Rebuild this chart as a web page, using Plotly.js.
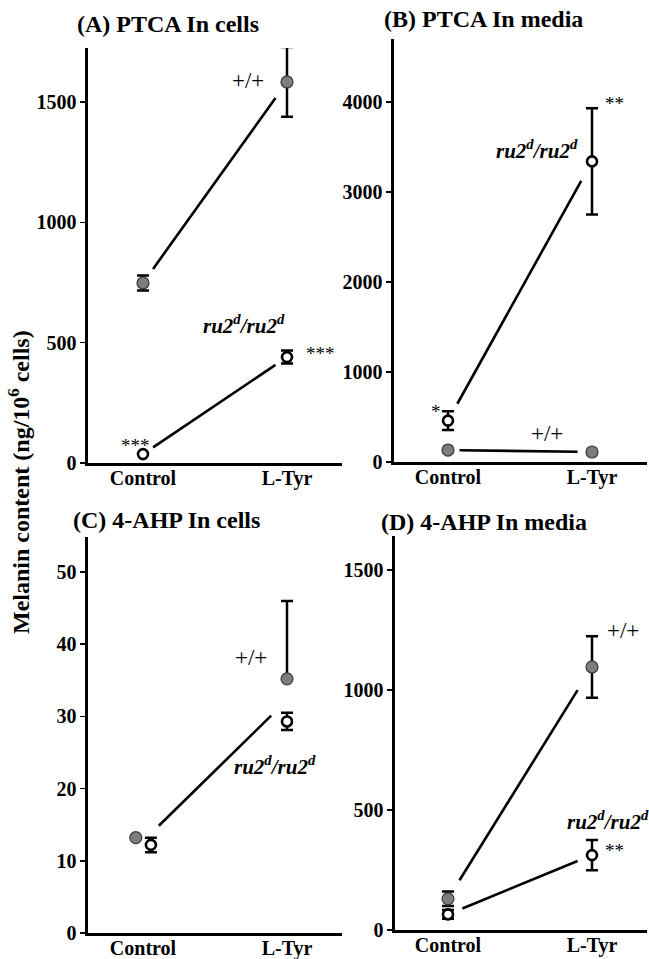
<!DOCTYPE html>
<html>
<head>
<meta charset="utf-8">
<script src="https://cdn.plot.ly/plotly-3.0.1.min.js"></script>
<style>html,body{margin:0;padding:0;background:#fff;} #chart{width:649px;height:959px;}</style>
</head>
<body>
<div id="chart"></div>
<script>
// ---------------- data ----------------
const categories = ['Control', 'L-Tyr'];
const xPos = [0, 1];

// (A) PTCA In cells
const aWT = [748, 1583];
const aWTErr = [31, 145];
const aRU = [37, 440];
const aRUErr = [0, 27];

// (B) PTCA In media
const bWT = [133, 111];
const bWTErr = [0, 0];
const bRU = [460, 3340];
const bRUErr = [105, 590];

// (C) 4-AHP In cells
const cWT = [13.2, 35.2];
const cWTErrPlus = [0, 10.8];
const cWTErrMinus = [0, 0];
const cRU = [12.2, 29.3];
const cRUErr = [1.0, 1.2];

// (D) 4-AHP In media
const dWT = [130, 1096];
const dWTErr = [30, 128];
const dRU = [65, 312];
const dRUErr = [18, 63];

const panelTitles = ['(A) PTCA In cells', '(B) PTCA In media', '(C) 4-AHP In cells', '(D) 4-AHP In media'];
const yTitle = 'Melanin content (ng/10<sup>6</sup> cells)';
const wtLabel = '+/+';
const ruLabel = '<b><i>ru2<sup>d</sup>/ru2<sup>d</sup></i></b>';

// ---------------- styling ----------------
const W = 649, H = 959;
const FONT = 'Liberation Serif, Times New Roman, serif';
const greyFill = '#7d7d7d';

function P(px, py) { return { x: px / W, y: 1 - py / H }; }

function seg(xs, ys, t0, t1, xa, ya) {
  return {
    x: [xs[0] + (xs[1] - xs[0]) * t0, xs[0] + (xs[1] - xs[0]) * t1],
    y: [ys[0] + (ys[1] - ys[0]) * t0, ys[0] + (ys[1] - ys[0]) * t1],
    mode: 'lines', type: 'scatter', xaxis: xa, yaxis: ya,
    line: { color: '#000', width: 2.6 }, hoverinfo: 'skip', showlegend: false
  };
}

function wtTrace(xs, ys, plus, minus, xa, ya) {
  return {
    x: xs, y: ys, mode: 'markers', type: 'scatter', xaxis: xa, yaxis: ya, showlegend: false,
    marker: { size: 12, color: greyFill, line: { color: '#3a3a3a', width: 1.2 } },
    error_y: { type: 'data', symmetric: false, array: plus, arrayminus: minus, color: '#000', thickness: 2.5, width: 6 }
  };
}
function ruTrace(xs, ys, err, xa, ya) {
  return {
    x: xs, y: ys, mode: 'markers', type: 'scatter', xaxis: xa, yaxis: ya, showlegend: false,
    marker: { size: 10, color: '#fff', line: { color: '#000', width: 2.6 } },
    error_y: { type: 'data', array: err, color: '#000', thickness: 2.5, width: 6 }
  };
}

const cWTx = [xPos[0] - 0.05, xPos[1]];
const cRUx = [xPos[0] + 0.055, xPos[1]];
const cMeanY = [(cWT[0] + cRU[0]) / 2, (cWT[1] + cRU[1]) / 2];

const traces = [
  // A
  seg(xPos, aWT, 0.07, 0.92, 'x', 'y'),
  seg(xPos, aRU, 0.07, 0.92, 'x', 'y'),
  wtTrace(xPos, aWT, aWTErr, aWTErr, 'x', 'y'),
  ruTrace(xPos, aRU, aRUErr, 'x', 'y'),
  // B
  seg(xPos, bRU, 0.065, 0.925, 'x2', 'y2'),
  seg(xPos, bWT, 0.08, 0.9, 'x2', 'y2'),
  wtTrace(xPos, bWT, bWTErr, bWTErr, 'x2', 'y2'),
  ruTrace(xPos, bRU, bRUErr, 'x2', 'y2'),
  // C
  seg(xPos, cMeanY, 0.11, 0.89, 'x3', 'y3'),
  wtTrace(cWTx, cWT, cWTErrPlus, cWTErrMinus, 'x3', 'y3'),
  ruTrace(cRUx, cRU, cRUErr, 'x3', 'y3'),
  // D
  seg(xPos, dWT, 0.08, 0.9, 'x4', 'y4'),
  seg(xPos, dRU, 0.1, 0.9, 'x4', 'y4'),
  wtTrace(xPos, dWT, dWTErr, dWTErr, 'x4', 'y4'),
  ruTrace(xPos, dRU, dRUErr, 'x4', 'y4')
];

function xAx(l, r, c0, c1) {
  const s = c1 - c0;
  return {
    domain: [l / W, r / W], range: [(l - c0) / s, (r - c0) / s],
    tickvals: xPos, ticktext: categories, ticks: '', showgrid: false, zeroline: false,
    showline: true, linecolor: '#000', linewidth: 2.6, fixedrange: true, ticklabelstandoff: -5,
    tickfont: { family: FONT, size: 20, color: '#000', weight: 'bold' }
  };
}
function yAx(bot, top, zeroPx, pxPerUnit, dtick, anchor) {
  return {
    domain: [1 - bot / H, 1 - top / H], range: [0, (zeroPx - top) / pxPerUnit],
    dtick: dtick, tick0: 0, ticks: 'outside', ticklen: 5, tickwidth: 1.5, tickcolor: '#000',
    showgrid: false, zeroline: false, showline: true, linecolor: '#000', linewidth: 2.6,
    tickfont: { family: FONT, size: 20, color: '#000', weight: 'bold' }, anchor: anchor, fixedrange: true
  };
}

function ann(px, py, text, size, opts) {
  const p = P(px, py);
  return Object.assign({
    x: p.x, y: p.y, xref: 'paper', yref: 'paper', text: text, showarrow: false,
    font: { family: FONT, size: size, color: '#000' }, xanchor: 'center', yanchor: 'middle'
  }, opts || {});
}

const titleFont = 24;
const annotations = [
  ann(168, 24, '<b>' + panelTitles[0] + '</b>', titleFont),
  ann(483, 19, '<b>' + panelTitles[1] + '</b>', titleFont),
  ann(166, 520, '<b>' + panelTitles[2] + '</b>', titleFont),
  ann(484, 522, '<b>' + panelTitles[3] + '</b>', titleFont),
  ann(19, 482, '<b>' + yTitle + '</b>', 24, { textangle: -90 }),
  // A
  ann(248, 80, wtLabel, 23),
  ann(244, 325, ruLabel, 21),
  ann(135, 445, '***', 19),
  ann(320, 353, '***', 19),
  // B
  ann(537, 149, ruLabel, 21),
  ann(614, 104, '**', 19),
  ann(436, 411, '*', 19),
  ann(547, 433, wtLabel, 23),
  // C
  ann(251, 657, wtLabel, 23),
  ann(275, 765, ruLabel, 21),
  // D
  ann(623, 630, wtLabel, 23),
  ann(565, 820, ruLabel, 21, { xanchor: 'left' }),
  ann(614, 850, '**', 19)
];

const layout = {
  width: W, height: H, margin: { l: 0, r: 0, t: 0, b: 0 },
  paper_bgcolor: '#fff', plot_bgcolor: 'rgba(0,0,0,0)', showlegend: false,
  font: { family: FONT, color: '#000' },
  xaxis: Object.assign(xAx(88, 342, 143, 287), { anchor: 'y' }),
  yaxis: yAx(463, 48, 463, 0.2407, 500, 'x'),
  xaxis2: Object.assign(xAx(394, 647, 448, 592), { anchor: 'y2' }),
  yaxis2: yAx(462, 39, 462, 0.09, 1000, 'x2'),
  xaxis3: Object.assign(xAx(88, 342, 143, 287), { anchor: 'y3' }),
  yaxis3: yAx(933, 537, 933, 7.22, 10, 'x3'),
  xaxis4: Object.assign(xAx(395, 647, 448, 592), { anchor: 'y4' }),
  yaxis4: yAx(930, 536, 930, 0.24, 500, 'x4'),
  annotations: annotations
};

Plotly.newPlot('chart', traces, layout, { displayModeBar: false, staticPlot: true });
</script>
</body>
</html>
